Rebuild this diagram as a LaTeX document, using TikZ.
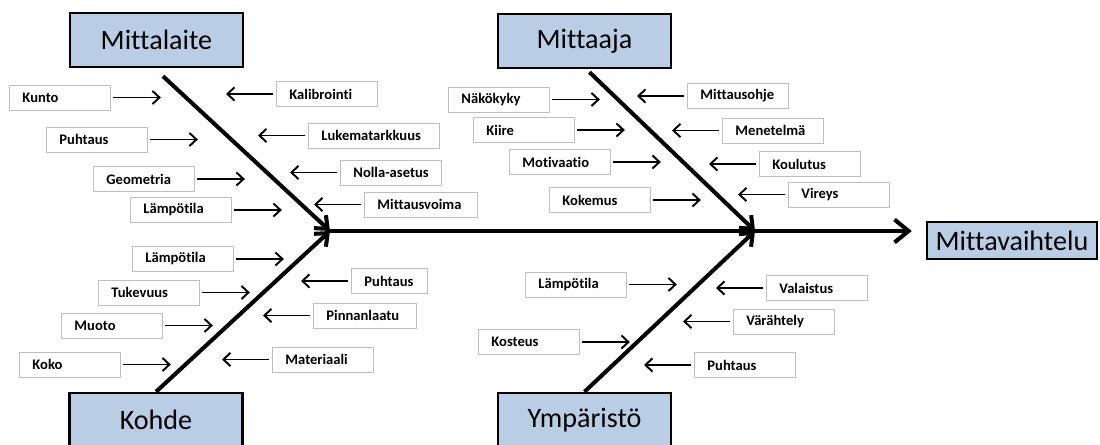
\documentclass[tikz,border=0pt]{standalone}
\usepackage{fontspec}
\setmainfont{Carlito}[Ligatures={NoCommon}]
\usepackage{tikz}
\usetikzlibrary{arrows.meta,positioning,calc}
\usepackage{xcolor}
\definecolor{catblue}{RGB}{185,205,229}
\definecolor{boxgray}{RGB}{190,190,190}
\newcommand{\causefont}{\fontsize{8.3}{10}\selectfont\bfseries\exhyphenpenalty=10000\hyphenpenalty=10000}
\newcommand{\catfont}{\fontsize{16}{19}\selectfont}

\begin{document}
\begin{tikzpicture}[
    x=0.02cm, y=-0.02cm,
    category/.style={draw, line width=1.4pt, fill=catblue, font=\catfont,
        minimum width=3.46cm, minimum height=1.08cm, inner sep=0pt},
    cause/.style={draw=boxgray, line width=0.5pt, fill=white, font=\causefont,
        anchor=west, minimum height=0.5cm, inner xsep=0.26cm, inner ysep=0pt,
        text width=#1, align=left},
    cause/.default=1.5cm,
    small arrow/.style={line width=1.1pt, shorten <=1.5pt,
        -{Straight Barb[length=4pt,width=7.5pt]}},
    bone/.style={line width=2.3pt, -{Straight Barb[length=6pt,width=10pt]}},
    spine/.style={line width=2.3pt, -{Straight Barb[length=8pt,width=13pt]}},
]
\useasboundingbox (0,0) rectangle (1100,445);

% ===== FISH HEAD AND SPINE =====
\coordinate (head1) at (330,231);
\coordinate (head2) at (755,231);
\node[category, minimum width=3.4cm, minimum height=0.74cm] (effect) at (1012,240.5) {Mittavaihtelu};
\draw[spine, shorten >=0.28cm] (head1) -- (head1 -| effect.west);

% ===== MITTALAITE =====
\node[category] (mittalaite) at (156.5,40) {Mittalaite};
\draw[bone] ([shift={(6.5,8)}]mittalaite.south) -- (head1);

\node[cause] (kunto)     at (9,97.5)  {Kunto};
\node[cause] (puhtausA)  at (46,139.5) {Puhtaus};
\node[cause] (geometria) at (93,179)  {Geometria};
\node[cause] (lampoA)    at (130,210) {Lämpötila};
\node[cause] (kalibrointi)  at (276,94)    {Kalibrointi};
\node[cause=2.1cm] (lukema) at (308,135.5) {Lukematarkkuus};
\node[cause] (nolla)        at (340,172.5) {Nolla-asetus};
\node[cause=1.74cm] (voima) at (364,204.5) {Mittausvoima};

\foreach \n in {kunto,puhtausA,geometria,lampoA}
    \draw[small arrow] (\n.east) -- ++(50,0);
\foreach \n in {kalibrointi,lukema,nolla,voima}
    \draw[small arrow] (\n.west) -- ++(-50,0);

% ===== KOHDE =====
\node[category] (kohde) at (156,420) {Kohde};
\draw[bone] (kohde.north) -- (head1);

\node[cause] (lampoB)   at (132,259)   {Lämpötila};
\node[cause] (tukevuus) at (98,292.5)  {Tukevuus};
\node[cause] (muoto)    at (61,325.5)  {Muoto};
\node[cause] (koko)     at (19,364.5)  {Koko};
\node[cause=1.0cm] (puhtausB)  at (351,281)   {Puhtaus};
\node[cause=1.54cm] (pinnan)   at (313,315.5) {Pinnanlaatu};
\node[cause] (materiaali)      at (272,359.5) {Materiaali};

\foreach \n in {lampoB,tukevuus,muoto,koko}
    \draw[small arrow] (\n.east) -- ++(50,0);
\foreach \n in {puhtausB,pinnan,materiaali}
    \draw[small arrow] (\n.west) -- ++(-50,0);

% ===== MITTAAJA =====
\node[category] (mittaaja) at (584.5,41) {Mittaaja};
\draw[bone] ([shift={(5,3)}]mittaaja.south) -- (head2);

\node[cause] (nako)       at (448,99.5) {Näkökyky};
\node[cause] (kiire)      at (473,130)  {Kiire};
\node[cause] (motivaatio) at (509,162)  {Motivaatio};
\node[cause] (kokemus)    at (549,200)  {Kokemus};
\node[cause] (ohje)       at (687,96)    {Mittausohje};
\node[cause] (menetelma)  at (722,130.5) {Menetelmä};
\node[cause] (koulutus)   at (759,164)   {Koulutus};
\node[cause] (vireys)     at (788,194.5) {Vireys};

\foreach \n in {nako,kiire,motivaatio,kokemus}
    \draw[small arrow] (\n.east) -- ++(50,0);
\foreach \n in {ohje,menetelma,koulutus,vireys}
    \draw[small arrow] (\n.west) -- ++(-50,0);

% ===== YMPARISTO =====
\node[category] (ymparisto) at (584.5,420) {Ympäristö};
\draw[bone] (ymparisto.north) -- (head2);

\node[cause] (lampoC)    at (525,284.5) {Lämpötila};
\node[cause] (kosteus)   at (478,342)   {Kosteus};
\node[cause] (valaistus) at (766,288)   {Valaistus};
\node[cause] (varahtely) at (733,321.5) {Värähtely};
\node[cause] (puhtausC)  at (694,365)   {Puhtaus};

\foreach \n in {lampoC,kosteus}
    \draw[small arrow] (\n.east) -- ++(50,0);
\foreach \n in {valaistus,varahtely,puhtausC}
    \draw[small arrow] (\n.west) -- ++(-50,0);

\end{tikzpicture}
\end{document}
